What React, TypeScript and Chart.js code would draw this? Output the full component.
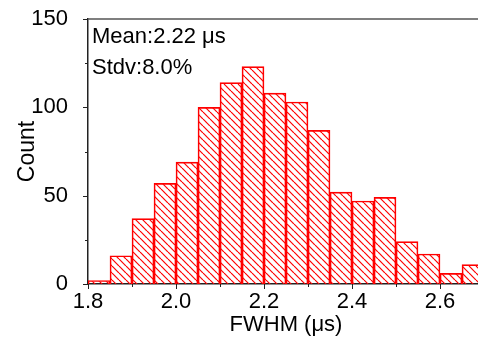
import React, { useEffect, useRef } from "react";
import { Chart, registerables } from "chart.js";

Chart.register(...registerables);

// Histogram bins (centres, width 0.05 µs) and their counts
const binCenters = [1.825, 1.875, 1.925, 1.975, 2.025, 2.075, 2.125, 2.175, 2.225, 2.275, 2.325, 2.375, 2.425, 2.475, 2.525, 2.575, 2.625, 2.675];
const counts = [2, 16, 37, 57, 69, 100, 114, 123, 108, 103, 87, 52, 47, 49, 24, 17, 6, 11];

const xMajorTicks = [1.8, 2.0, 2.2, 2.4, 2.6];
const xMinorTicks = [1.9, 2.1, 2.3, 2.5, 2.7];
const yMajorTicks = [0, 50, 100, 150];
const yMinorTicks = [25, 75, 125];
const annotationLines = ["Mean:2.22 \u03bcs", "Stdv:8.0%"];
const xTitle = "FWHM (\u03bcs)";
const yTitle = "Count";

const FONT = "'Liberation Sans', Arial, sans-serif";
const RED = "#ff0000";

function makeHatch(ctx: CanvasRenderingContext2D): CanvasPattern | string {
  const s = 7;
  const tile = document.createElement("canvas");
  tile.width = s;
  tile.height = s;
  const t = tile.getContext("2d");
  if (!t) return RED;
  t.strokeStyle = RED;
  t.lineWidth = 1.2;
  for (const k of [-s, 0, s]) {
    t.beginPath();
    t.moveTo(k, 0);
    t.lineTo(k + s, s);
    t.stroke();
  }
  return ctx.createPattern(tile, "repeat") || RED;
}

const decorPlugin = {
  id: "decor",
  afterDraw(chart: any) {
    const { ctx, chartArea } = chart;
    const xs = chart.scales.x;
    const ys = chart.scales.y;
    ctx.save();
    // top frame line
    ctx.strokeStyle = "#555";
    ctx.lineWidth = 1.5;
    ctx.beginPath();
    ctx.moveTo(chartArea.left, chartArea.top);
    ctx.lineTo(chartArea.right, chartArea.top);
    ctx.stroke();
    // tick marks
    ctx.strokeStyle = "#222";
    ctx.lineWidth = 1;
    const drawY = (v: number, len: number) => {
      const y = Math.round(ys.getPixelForValue(v)) + 0.5;
      ctx.beginPath();
      ctx.moveTo(chartArea.left - len, y);
      ctx.lineTo(chartArea.left, y);
      ctx.stroke();
    };
    const drawX = (v: number, len: number) => {
      const x = Math.round(xs.getPixelForValue(v)) + 0.5;
      ctx.beginPath();
      ctx.moveTo(x, chartArea.bottom);
      ctx.lineTo(x, chartArea.bottom + len);
      ctx.stroke();
    };
    yMajorTicks.forEach((v) => drawY(v, 5));
    yMinorTicks.forEach((v) => drawY(v, 3));
    xMajorTicks.forEach((v) => drawX(v, 5));
    xMinorTicks.forEach((v) => drawX(v, 3));
    // annotation
    ctx.fillStyle = "#000";
    ctx.font = `22px ${FONT}`;
    ctx.textAlign = "left";
    ctx.textBaseline = "alphabetic";
    annotationLines.forEach((line, i) => {
      ctx.fillText(line, chartArea.left + 4, chartArea.top + 24 + i * 30.5);
    });
    ctx.restore();
  },
};

export default function App() {
  const canvasRef = useRef<HTMLCanvasElement | null>(null);

  useEffect(() => {
    const canvas = canvasRef.current;
    if (!canvas) return;
    const ctx = canvas.getContext("2d");
    if (!ctx) return;
    const hatch = makeHatch(ctx);

    const chart = new Chart(ctx, {
      type: "bar",
      data: {
        datasets: [
          {
            data: binCenters.map((x, i) => ({ x, y: counts[i] })),
            backgroundColor: hatch as any,
            borderColor: RED,
            borderWidth: 1,
            barPercentage: 1,
            categoryPercentage: 1,
          },
        ],
      },
      options: {
        animation: false,
        responsive: true,
        maintainAspectRatio: false,
        layout: { padding: { top: 19, right: 16, left: 0, bottom: 0 } },
        plugins: {
          legend: { display: false },
          tooltip: { enabled: false },
        },
        scales: {
          x: {
            type: "linear",
            min: 1.8,
            max: 2.7,
            offset: false,
            grid: { display: false },
            border: { display: true, color: "#222", width: 1.5 },
            ticks: {
              stepSize: 0.1,
              autoSkip: false,
              maxRotation: 0,
              padding: -3,
              color: "#000",
              font: { family: FONT, size: 22 },
              callback: (v: any) =>
                xMajorTicks.some((t) => Math.abs(t - Number(v)) < 1e-6) ? Number(v).toFixed(1) : "",
            },
            title: {
              display: true,
              text: xTitle,
              color: "#000",
              font: { family: FONT, size: 22 },
              padding: { top: 0, bottom: 3 },
            },
            afterFit: (scale: any) => {
              scale.height = 57;
              scale.paddingLeft = 0;
              scale.paddingRight = 0;
            },
          },
          y: {
            min: 0,
            max: 150,
            grid: { display: false },
            border: { display: true, color: "#222", width: 1.5 },
            ticks: {
              stepSize: 25,
              autoSkip: false,
              padding: 12,
              color: "#000",
              font: { family: FONT, size: 22 },
              callback: (v: any) => (yMajorTicks.includes(Number(v)) ? String(v) : ""),
            },
            title: {
              display: true,
              text: yTitle,
              color: "#000",
              font: { family: FONT, size: 23 },
              padding: { top: 14, bottom: 0 },
            },
            afterFit: (scale: any) => {
              scale.width = 88;
              scale.paddingTop = 0;
              scale.paddingBottom = 0;
            },
          },
        },
      } as any,
      plugins: [decorPlugin],
    });

    return () => chart.destroy();
  }, []);

  return (
    <div style={{ position: "fixed", left: 0, top: 0, width: 500, height: 341, background: "#fff" }}>
      <canvas ref={canvasRef} />
    </div>
  );
}
